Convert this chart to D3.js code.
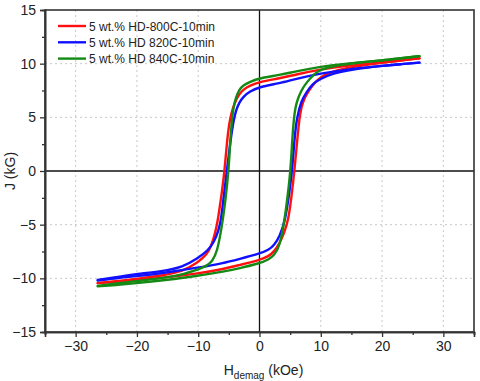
<!DOCTYPE html>
<html>
<head>
<meta charset="utf-8">
<script src="https://cdn.jsdelivr.net/npm/d3@7"></script>
<style>
  body { margin: 0; background: #fff; }
  text { font-family: "Liberation Sans", Arial, sans-serif; fill: #222; }
</style>
</head>
<body>
<div id="chart"></div>
<script>
// tick values
const hTicks = [-30, -20, -10, 0, 10, 20, 30];
const hMinor = [-35, -25, -15, -5, 5, 15, 25, 35];
const jTicks = [-15, -10, -5, 0, 5, 10, 15];
const jMinor = [-12.5, -7.5, -2.5, 2.5, 7.5, 12.5];

// series names
const seriesNames = ["5 wt.% HD-800C-10min", "5 wt.% HD 820C-10min", "5 wt.% HD 840C-10min"];

// [H (kOe), J (kG)] -- descending branch, then ascending branch
const red800Down = [[26.1,10.5],[20,10.1],[14,9.8],[10,9.47],[6,9.0],[3.3,8.64],[0,8.3],[-1.6,7.95],[-2.6,7.6],[-3.4,7.1],[-4.0,6.4],[-4.5,5.6],[-4.9,4.6],[-5.3,2.8],[-5.7,0],[-6.1,-1.8],[-6.4,-3.0],[-6.8,-4.6],[-7.2,-5.7],[-7.8,-6.9],[-8.6,-7.8],[-10,-8.5],[-12.5,-9.35],[-16,-9.75],[-20,-10.05],[-23,-10.25],[-26.4,-10.45]];
const red800Up = [[-26.4,-10.45],[-23,-10.3],[-20,-10.15],[-15,-9.9],[-10,-9.55],[-6,-9.15],[-3.3,-8.76],[0,-8.3],[1.5,-7.95],[2.4,-7.5],[3.3,-6.7],[4.0,-5.8],[4.7,-4.6],[5.2,-2.5],[5.7,0],[6.1,2.5],[6.5,5.0],[7.0,6.4],[7.9,7.4],[9.0,8.2],[10,8.8],[12,9.3],[15,9.7],[20,10.1],[23,10.3],[26.1,10.5]];

const blue820Down = [[26.1,10.1],[23,9.95],[20,9.8],[14,9.45],[10,9.1],[6,8.6],[3.3,8.17],[0,7.85],[-1.6,7.4],[-2.6,6.95],[-3.3,6.4],[-3.8,5.7],[-4.2,4.8],[-4.7,3.0],[-5.33,0],[-5.8,-2.2],[-6.25,-4.5],[-6.7,-5.6],[-7.4,-6.6],[-8.4,-7.4],[-10,-8.1],[-12.5,-8.95],[-16,-9.35],[-20,-9.6],[-23,-9.85],[-26.4,-10.15]];
const blue820Up = [[-26.4,-10.2],[-23,-9.95],[-20,-9.8],[-15,-9.45],[-10,-9.0],[-6,-8.6],[-3.3,-8.2],[0,-7.7],[1.5,-7.35],[2.4,-6.9],[3.3,-6.1],[4.2,-4.6],[4.8,-2.3],[5.33,0],[5.7,3],[6.1,5.0],[6.8,6.5],[7.6,7.3],[8.7,8.15],[9.8,8.55],[12,9.1],[15,9.45],[20,9.8],[23,9.95],[26.1,10.1]];

const green840Down = [[26.1,10.7],[23,10.5],[20,10.3],[14,10.0],[10,9.72],[6,9.3],[3.3,8.95],[0,8.65],[-1.6,8.3],[-2.6,8.0],[-3.3,7.6],[-3.9,6.8],[-4.3,5.8],[-4.6,4.2],[-4.85,2.0],[-5.06,0],[-5.5,-2.5],[-6.0,-4.6],[-6.4,-6.0],[-6.9,-7.4],[-7.6,-8.4],[-9,-9.0],[-12.5,-9.65],[-16,-10.0],[-20,-10.25],[-23,-10.45],[-26.4,-10.7]];
const green840Up = [[-26.4,-10.75],[-23,-10.6],[-20,-10.45],[-15,-10.15],[-10,-9.75],[-6,-9.4],[-3.3,-9.07],[0,-8.6],[1.5,-8.25],[2.4,-7.85],[3.3,-7.05],[4.08,-4.6],[4.5,-2.8],[5.06,0],[5.3,2.5],[5.6,5.0],[6.0,6.4],[6.8,7.5],[7.6,8.2],[9,9.1],[10,9.45],[12.5,9.85],[16,10.1],[20,10.3],[23,10.5],[26.1,10.7]];

const colors = ["#ff1010", "#1010ff", "#148a14"];

// set the dimensions and margins of the graph
const margin = {top: 10, right: 6, bottom: 49, left: 45},
      width = 480 - margin.left - margin.right,
      height = 381 - margin.top - margin.bottom;

const svg = d3.select("#chart")
  .append("svg")
    .attr("width", width + margin.left + margin.right)
    .attr("height", height + margin.top + margin.bottom)
  .append("g")
    .attr("transform", `translate(${margin.left}, ${margin.top})`);

const x = d3.scaleLinear().domain([-35, 35]).range([0, width]);
const y = d3.scaleLinear().domain([-15, 15]).range([height, 0]);

// dotted grid
svg.append("g")
  .selectAll("line")
  .data(hTicks.filter(d => d !== 0))
  .join("line")
    .attr("x1", d => x(d)).attr("x2", d => x(d))
    .attr("y1", 0).attr("y2", height)
    .attr("stroke", "#c8c8c8").attr("stroke-width", 1).attr("stroke-dasharray", "2,3");
svg.append("g")
  .selectAll("line")
  .data(jTicks.filter(d => d !== 0 && Math.abs(d) !== 15))
  .join("line")
    .attr("x1", 0).attr("x2", width)
    .attr("y1", d => y(d)).attr("y2", d => y(d))
    .attr("stroke", "#c8c8c8").attr("stroke-width", 1).attr("stroke-dasharray", "2,3");

// zero lines
svg.append("line")
  .attr("x1", x(0)).attr("x2", x(0)).attr("y1", 0).attr("y2", height)
  .attr("stroke", "#111").attr("stroke-width", 1.3);
svg.append("line")
  .attr("x1", 0).attr("x2", width).attr("y1", y(0)).attr("y2", y(0))
  .attr("stroke", "#111").attr("stroke-width", 1.3);

// loops: each branch is drawn on its own so the ends stay put
const line = d3.line()
  .x(d => x(d[0]))
  .y(d => y(d[1]))
  .curve(d3.curveBasis);

const branches = [
  {c: 0, pts: red800Down}, {c: 0, pts: red800Up},
  {c: 1, pts: blue820Down}, {c: 1, pts: blue820Up},
  {c: 2, pts: green840Down}, {c: 2, pts: green840Up}
];

svg.selectAll(".loop")
  .data(branches)
  .join("path")
    .attr("class", "loop")
    .attr("fill", "none")
    .attr("stroke", d => colors[d.c])
    .attr("stroke-width", 2.4)
    .attr("stroke-linecap", "round")
    .attr("d", d => line(d.pts));

// frame
svg.append("rect")
  .attr("width", width).attr("height", height)
  .attr("fill", "none").attr("stroke", "#333").attr("stroke-width", 1.6);

// axes
svg.append("g")
  .attr("transform", `translate(0, ${height})`)
  .call(d3.axisBottom(x).tickValues(hTicks).tickSize(5).tickPadding(4));
svg.append("g")
  .attr("transform", `translate(0, ${height})`)
  .call(d3.axisBottom(x).tickValues(hMinor).tickSize(3).tickFormat(""));
svg.append("g")
  .call(d3.axisLeft(y).tickValues(jTicks).tickSize(5).tickPadding(4));
svg.append("g")
  .call(d3.axisLeft(y).tickValues(jMinor).tickSize(3).tickFormat(""));

svg.selectAll(".domain").attr("stroke", "#333").attr("stroke-width", 1.6);
svg.selectAll(".tick line").attr("stroke", "#333").attr("stroke-width", 1.3);
svg.selectAll(".tick text")
  .attr("font-size", 14)
  .attr("font-family", "Liberation Sans, Arial, sans-serif")
  .attr("fill", "#222");

// axis titles
svg.append("text")
  .attr("transform", `translate(${-30}, ${height / 2}) rotate(-90)`)
  .attr("text-anchor", "middle")
  .attr("font-size", 14)
  .text("J (kG)");

const xt = svg.append("text")
  .attr("x", x(0) + 4)
  .attr("y", height + 43)
  .attr("text-anchor", "middle")
  .attr("font-size", 14);
xt.append("tspan").text("H");
xt.append("tspan").attr("font-size", 10).attr("dy", 4).text("demag");
xt.append("tspan").attr("dy", -4).text(" (kOe)");

// legend
const legend = svg.append("g")
  .attr("transform", "translate(13, 16)");
const item = legend.selectAll("g")
  .data(seriesNames)
  .join("g")
    .attr("transform", (d, i) => `translate(0, ${i * 16.3})`);
item.append("line")
  .attr("x1", 0).attr("x2", 28)
  .attr("stroke", (d, i) => colors[i])
  .attr("stroke-width", 2.4);
item.append("text")
  .attr("x", 31).attr("y", 4.5)
  .attr("font-size", 12)
  .text(d => d);
</script>
</body>
</html>
